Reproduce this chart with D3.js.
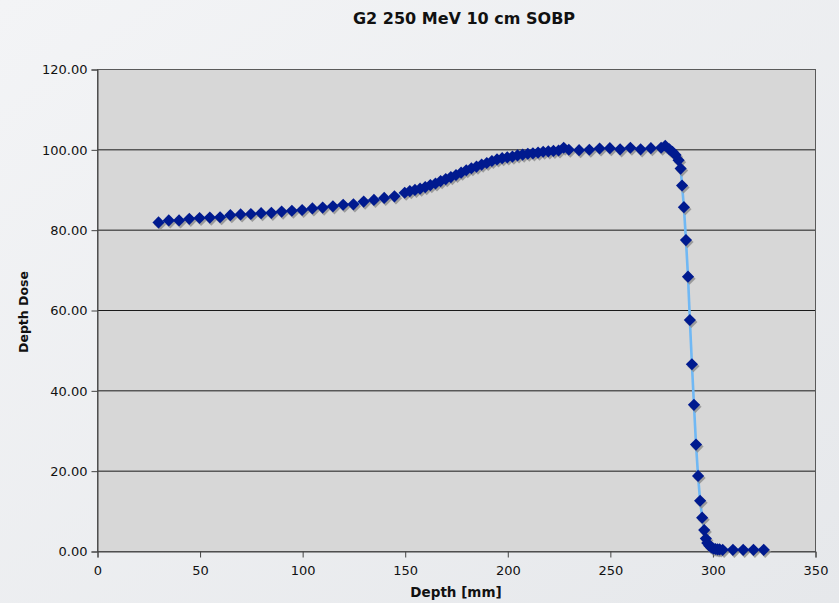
<!DOCTYPE html>
<html>
<head>
<meta charset="utf-8">
<script src="https://cdn.jsdelivr.net/npm/d3@7"></script>
<style>
  html, body { margin: 0; padding: 0; }
  body { width: 839px; height: 603px; overflow: hidden; }
  text { font-family: "DejaVu Sans", Verdana, sans-serif; }
</style>
</head>
<body>
<div id="container"></div>
<script>
// depth in mm and relative dose
var depth = [30,35,40,45,50,55,60,65,70,75,80,85,90,95,100,105,110,115,120,125,130,135,140,145,
  150,152.5,155,157.5,160,162.5,165,167.5,170,172.5,175,177.5,180,182.5,185,187.5,190,192.5,195,197.5,
  200,202.5,205,207.5,210,212.5,215,217.5,220,222.5,225,227.5,230,
  235,240,245,250,255,260,265,270,275,277,279,280.5,282,283.5,284.5,285.2,286.1,287.1,288.1,289,290,291,292,293,294,295,296,296.8,
  297.5,298.5,299.5,300.5,301.5,302.5,303.5,305,310,315,320,325];
var dose = [81.8,82.3,82.3,82.7,82.9,83.0,83.1,83.6,83.8,83.9,84.1,84.2,84.5,84.7,84.9,85.3,85.5,85.8,86.2,86.3,87.0,87.4,87.9,88.3,
  89.2,89.6,89.9,90.2,90.6,91.1,91.5,92.1,92.6,93.1,93.6,94.2,94.8,95.3,95.7,96.2,96.6,97.1,97.5,97.8,
  98.0,98.2,98.5,98.7,98.9,99.0,99.2,99.4,99.5,99.6,99.7,100.4,99.9,
  99.8,99.9,100.2,100.3,100.0,100.4,100.0,100.3,100.4,100.9,100.0,99.4,98.6,97.3,95.2,91.0,85.6,77.4,68.3,57.5,46.5,36.4,26.5,18.7,12.5,8.3,5.2,3.1,
  2.0,1.3,0.9,0.6,0.5,0.4,0.4,0.3,0.3,0.3,0.3,0.3];
var xTicks = [0,50,100,150,200,250,300,350];
var yTicks = [0,20,40,60,80,100,120];

var W = 839, H = 603;
var padL = 97, padR = 815, padT = 69, padB = 551;

var svg = d3.select("#container").append("svg")
  .attr("width", W)
  .attr("height", H);

var defs = svg.append("defs");
var bg = defs.append("linearGradient").attr("id","bg")
  .attr("x1","0").attr("y1","0").attr("x2","1").attr("y2","1");
bg.append("stop").attr("offset","0").attr("stop-color","#f3f4f6");
bg.append("stop").attr("offset","1").attr("stop-color","#e6e8eb");

svg.append("rect").attr("width",W).attr("height",H).attr("fill","url(#bg)");

var x = d3.scaleLinear().domain([0,350]).range([padL,padR]);
var y = d3.scaleLinear().domain([0,120]).range([padB,padT]);

// plot area
svg.append("rect")
  .attr("x",padL).attr("y",padT)
  .attr("width",padR-padL).attr("height",padB-padT)
  .attr("fill","#d7d7d7");

// gridlines
svg.append("g").selectAll("line").data(yTicks.slice(1)).enter().append("line")
  .attr("x1",padL).attr("x2",padR)
  .attr("y1",function(d){return y(d)+0.5;}).attr("y2",function(d){return y(d)+0.5;})
  .attr("stroke","#1a1a1a").attr("stroke-width",1);

svg.append("rect")
  .attr("x",padL+0.5).attr("y",padT+0.5)
  .attr("width",padR-padL).attr("height",padB-padT)
  .attr("fill","none").attr("stroke","#5a5a5a").attr("stroke-width",1);

// axes
var yAxis = svg.append("g").attr("transform","translate("+(padL+0.5)+",0.5)")
  .call(d3.axisLeft(y).tickValues(yTicks).tickFormat(d3.format(".2f")).tickSize(6).tickPadding(4));
var xAxis = svg.append("g").attr("transform","translate(0.5,"+(padB+0.5)+")")
  .call(d3.axisBottom(x).tickValues(xTicks).tickSize(6).tickPadding(8));
[yAxis,xAxis].forEach(function(a){
  a.select(".domain").attr("stroke","#444");
  a.selectAll(".tick line").attr("stroke","#444");
  a.selectAll("text").attr("fill","#111").style("font-size","13px")
    .style("font-family","'DejaVu Sans', Verdana, sans-serif");
});

// line
var pts = depth.map(function(d,i){return [d,dose[i]];});
svg.append("path").datum(pts)
  .attr("fill","none").attr("stroke","#70b8f4").attr("stroke-width",2.6)
  .attr("d", d3.line().x(function(d){return x(d[0]);}).y(function(d){return y(d[1]);}));

// markers with shadow
var diamond = d3.symbol().type(d3.symbolSquare).size(74);
svg.append("g").selectAll("path").data(pts).enter().append("path")
  .attr("d", diamond)
  .attr("transform", function(d){return "translate("+(x(d[0])+1.5)+","+(y(d[1])+2)+") rotate(45)";})
  .attr("fill","#8c8c8c").attr("opacity",0.8);
svg.append("g").selectAll("path").data(pts).enter().append("path")
  .attr("d", diamond)
  .attr("transform", function(d){return "translate("+x(d[0])+","+y(d[1])+") rotate(45)";})
  .attr("fill","#001a8f");

// titles
svg.append("text").attr("x",464).attr("y",24).attr("text-anchor","middle")
  .style("font-size","16px").style("font-weight","bold").attr("fill","#111")
  .text("G2 250 MeV 10 cm SOBP");
svg.append("text").attr("x",456).attr("y",597).attr("text-anchor","middle")
  .style("font-size","13.5px").style("font-weight","bold").attr("fill","#111")
  .text("Depth [mm]");
svg.append("text").attr("transform","translate(28,312) rotate(-90)").attr("text-anchor","middle")
  .style("font-size","12.5px").style("font-weight","bold").attr("fill","#111")
  .text("Depth Dose");
</script>
</body>
</html>
